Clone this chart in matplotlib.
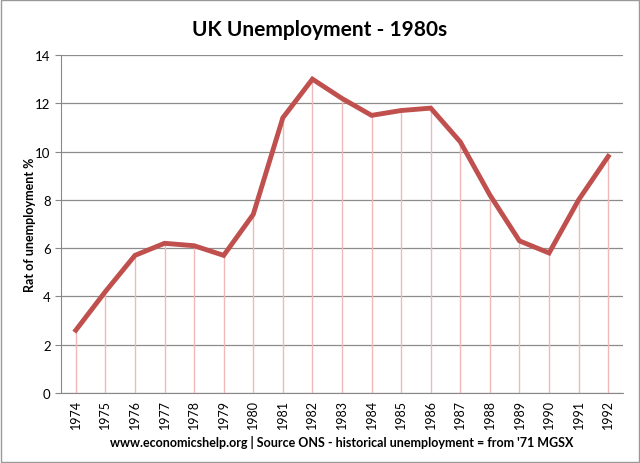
import matplotlib.pyplot as plt
from matplotlib.patches import Rectangle

# data
years = [str(y) for y in range(1974, 1993)]
unemployment = [2.6, 4.2, 5.7, 6.2, 6.1, 5.7, 7.4, 11.4, 13.0, 12.2,
                11.5, 11.7, 11.8, 10.4, 8.2, 6.3, 5.8, 8.0, 9.8]

plt.rcParams["font.family"] = ["Lato", "DejaVu Sans"]

fig = plt.figure(figsize=(6.4, 4.64), dpi=100)
ax = fig.add_axes([61 / 640, 70 / 464, 562 / 640, 338 / 464])

x = list(range(len(years)))

# drop lines from each point to zero
ax.vlines(x, 0, unemployment, color="#f0b8b8", linewidth=1, zorder=2)
ax.plot(x, unemployment, color="#c0504d", linewidth=3.5, solid_joinstyle="miter", zorder=3)

ax.set_xlim(-0.5, len(years) - 0.5)
ax.set_ylim(0, 14)
ax.set_yticks(range(0, 15, 2))
ax.set_xticks(x)
ax.set_xticklabels(years, rotation=90, fontsize=9)
ax.tick_params(axis="y", labelsize=9.5, length=4, color="#888888")
ax.tick_params(axis="x", length=0, pad=4)
ax.yaxis.grid(True, color="#8c8c8c", linewidth=0.9)
ax.set_axisbelow(True)
for side in ["top", "right"]:
    ax.spines[side].set_visible(False)
ax.spines["left"].set_color("#888888")
ax.spines["bottom"].set_color("#888888")

ax.set_ylabel("Rat of unemployment %", fontsize=9, fontweight="bold")
ax.yaxis.set_label_coords(-25 / 562, 0.5)
ax.set_xlabel("www.economicshelp.org | Source ONS - historical unemployment = from '71 MGSX",
              fontsize=9, fontweight="bold", labelpad=5)
fig.text(0.5, 0.935, "UK Unemployment - 1980s", ha="center", va="center",
         fontsize=15, fontweight="bold")

# figure border
fig.patches.append(Rectangle((0.002, 0.002), 0.996, 0.996, transform=fig.transFigure,
                             fill=False, edgecolor="#999999", linewidth=1))

plt.savefig("out.png", dpi=100)
